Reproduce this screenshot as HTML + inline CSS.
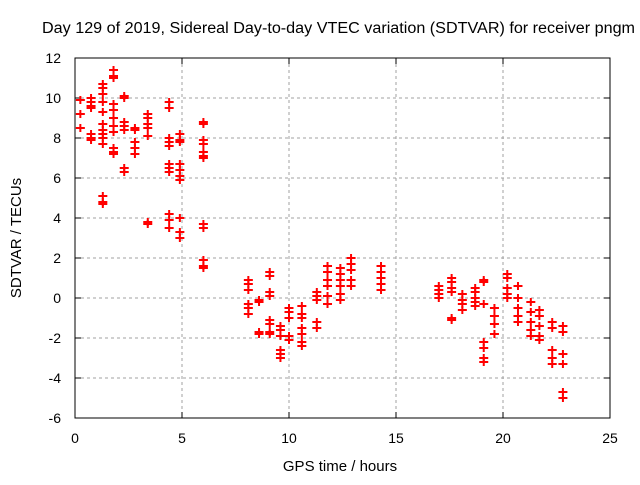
<!DOCTYPE html>
<html><head><meta charset="utf-8"><style>
body{margin:0;background:#fff}
svg text{font-family:"Liberation Sans",sans-serif;font-size:14px;fill:#000}
</style></head><body>
<svg id="c" width="640" height="480" xmlns="http://www.w3.org/2000/svg">
<text x="42" y="33" textLength="593" lengthAdjust="spacingAndGlyphs" style="font-size:15.5px">Day 129 of 2019, Sidereal Day-to-day VTEC variation (SDTVAR) for receiver pngm</text>
<text x="340" y="471" text-anchor="middle" style="font-size:15px">GPS time / hours</text>
<text transform="translate(21,238) rotate(-90)" text-anchor="middle" style="font-size:15px">SDTVAR / TECUs</text>
<g id="grid"></g><g id="ticks"></g><g id="pts"></g>
<rect x="75" y="58" width="535" height="360" fill="none" stroke="#000" stroke-width="1"/>
</svg>
<script>
const xTicks=[0,5,10,15,20,25];
const yTicks=[-6,-4,-2,0,2,4,6,8,10,12];
const clusterX=[0.25,0.75,1.3,1.8,2.3,2.8,3.4,4.4,4.9,6.0,8.1,8.6,9.1,9.6,10.0,10.6,11.3,11.8,12.4,12.9,14.3,17.0,17.6,18.1,18.7,19.1,19.6,20.2,20.7,21.3,21.7,22.3,22.8];
const clusterY=[
[9.9,9.2,8.5],
[10,9.8,9.6,9.5,8.2,8.0,7.9],
[10.7,10.5,10.2,9.8,9.3,8.7,8.4,8.2,8.0,7.7,5.1,4.8,4.7],
[11.4,11.1,11.0,9.7,9.4,9.0,8.6,8.3,7.5,7.3,7.2],
[10.1,10.0,8.8,8.6,8.4,6.5,6.3],
[8.5,8.4,7.8,7.5,7.2],
[9.2,9.0,8.7,8.5,8.1,3.8,3.7],
[9.8,9.5,8.0,7.8,7.6,6.7,6.5,6.3,4.2,3.9,3.5],
[8.2,7.9,7.8,6.7,6.4,6.1,5.9,4.0,3.3,3.0],
[8.8,8.7,7.9,7.7,7.3,7.1,7.0,3.7,3.5,1.9,1.6,1.5],
[0.9,0.7,0.4,-0.3,-0.5,-0.8],
[-0.1,-0.2,-1.7,-1.8],
[1.3,1.1,0.3,0.1,-1.1,-1.3,-1.7,-1.8],
[-1.4,-1.6,-1.9,-2.6,-2.8,-3.0],
[-0.5,-0.7,-1.0,-1.9,-2.1],
[-0.4,-0.8,-1.0,-1.5,-1.8,-2.2,-2.4],
[0.3,0.1,-0.1,-1.2,-1.5],
[1.6,1.3,0.9,0.6,0.1,-0.3],
[1.5,1.2,0.9,0.6,0.2,-0.1],
[2.0,1.7,1.4,0.9,0.6],
[1.6,1.3,1.0,0.7,0.4],
[0.6,0.4,0.2,0.0],
[1.0,0.8,0.5,0.3,-1.0,-1.1],
[0.2,-0.1,-0.3,-0.6],
[0.5,0.3,0.0,-0.2,-0.4],
[0.9,0.8,-0.3,-2.2,-2.5,-3.0,-3.2],
[-0.5,-0.9,-1.3,-1.8],
[1.2,1.0,0.5,0.2,0.0],
[0.6,0.0,-0.5,-0.9,-1.2],
[-0.2,-0.7,-1.2,-1.6,-1.9],
[-0.6,-0.9,-1.4,-1.9,-2.1],
[-1.2,-1.5,-2.6,-3.0,-3.3],
[-1.4,-1.7,-2.8,-3.3,-4.7,-5.0]
];
const NS="http://www.w3.org/2000/svg";
const X0=75,X1=610,Y0=418,Y1=58;
function sx(v){return X0+(v-0)/(25-0)*(X1-X0);}
function sy(v){return Y0-(v+6)/(12+6)*(Y0-Y1);}
function mk(tag,attrs,parent){const e=document.createElementNS(NS,tag);for(const k in attrs)e.setAttribute(k,attrs[k]);parent.appendChild(e);return e;}
const grid=document.getElementById('grid'),ticks=document.getElementById('ticks'),pts=document.getElementById('pts');
xTicks.forEach(t=>{const x=sx(t);
 if(t>0&&t<25){const g=mk('line',{x1:x,x2:x,y1:Y1,y2:Y0,stroke:'#a0a0a0','stroke-dasharray':'3,3'},grid);
 
 }
 mk('line',{x1:x,x2:x,y1:Y0,y2:Y0-6,stroke:'#000'},ticks);
 mk('line',{x1:x,x2:x,y1:Y1,y2:Y1+6,stroke:'#000'},ticks);
 const tx=mk('text',{x:x,y:Y0+25,'text-anchor':'middle'},ticks);tx.textContent=t;
 
 
});
yTicks.forEach(t=>{const y=sy(t);
 if(t>-6&&t<12){const g=mk('line',{x1:X0,x2:X1,y1:y,y2:y,stroke:'#a0a0a0','stroke-dasharray':'3,3'},grid);
 
 }
 mk('line',{x1:X0,x2:X0+6,y1:y,y2:y,stroke:'#000'},ticks);
 mk('line',{x1:X1,x2:X1-6,y1:y,y2:y,stroke:'#000'},ticks);
 const tx=mk('text',{x:X0-14,y:y+5,'text-anchor':'end'},ticks);tx.textContent=t;
 
 
});
clusterX.forEach((cx,i)=>{clusterY[i].forEach(v=>{
 const x=sx(cx),y=sy(v);
 const p=mk('path',{d:`M${x-4.5},${y}h9M${x},${y-4}v8`,stroke:'#ff0000','stroke-width':'2',fill:'none'},pts);
 
 
});});
</script>
</body></html>
